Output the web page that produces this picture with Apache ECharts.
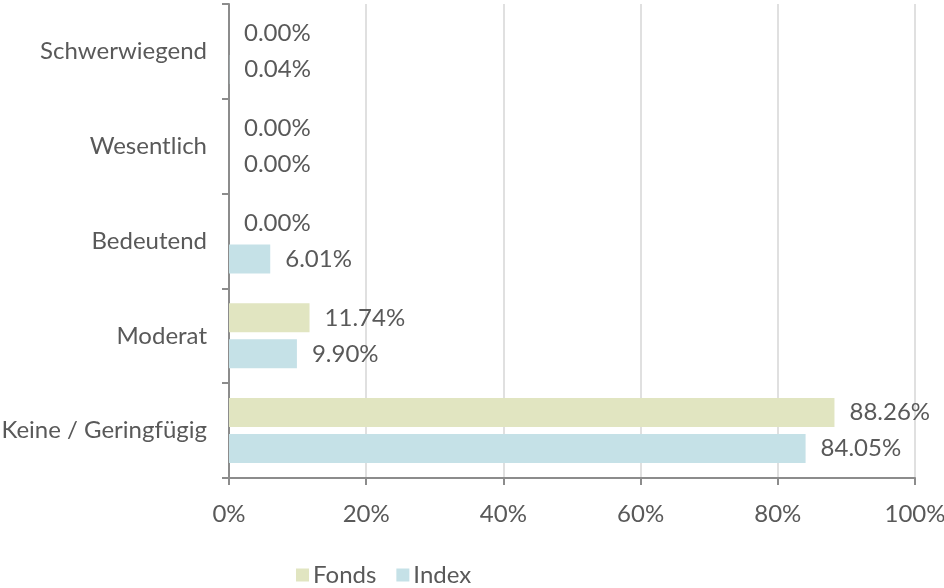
<!DOCTYPE html>
<html>
<head>
<meta charset="utf-8">
<script src="https://cdn.jsdelivr.net/npm/echarts@6/dist/echarts.min.js"></script>
<style>
  html, body { margin: 0; padding: 0; background: #fff; }
  #chart { width: 944px; height: 588px; }
</style>
</head>
<body>
<div id="chart"></div>
<script>
// categories top to bottom
const categories = ['Schwerwiegend', 'Wesentlich', 'Bedeutend', 'Moderat', 'Keine / Geringfügig']
const fondsValues = [0.00, 0.00, 0.00, 11.74, 88.26]
const indexValues = [0.04, 0.00, 6.01, 9.90, 84.05]
const xTicks = [0, 20, 40, 60, 80, 100]

const textColor = '#595959'
const font = 'Lato'
const fs = 24

const chart = echarts.init(document.getElementById('chart'))

const barLabel = {
  show: true,
  position: 'right',
  distance: 15,
  color: textColor,
  fontFamily: font,
  fontSize: fs,
  formatter: p => p.value.toFixed(2) + '%'
}

chart.setOption({
  animation: false,
  textStyle: { fontFamily: font },
  grid: { left: 229, right: 29, top: 4, bottom: 110, outerBoundsMode: 'none', containLabel: false },
  legend: {
    data: ['Fonds', 'Index'],
    left: 296,
    top: 563,
    padding: 0,
    icon: 'rect',
    itemWidth: 13,
    itemHeight: 13,
    itemGap: 20,
    textStyle: { color: textColor, fontSize: fs, fontFamily: font, padding: [0, 0, 0, -1] },
  },
  xAxis: {
    type: 'value',
    min: xTicks[0],
    max: xTicks[xTicks.length - 1],
    interval: 20,
    axisLine: { show: true, lineStyle: { color: '#8c8c8c', width: 2 } },
    axisTick: { show: true, length: 7, lineStyle: { color: '#8c8c8c', width: 2 } },
    splitLine: { show: true, lineStyle: { color: '#e0e0e0', width: 2 } },
    axisLabel: {
      color: textColor,
      fontSize: fs,
      fontFamily: font,
      margin: 24,
      formatter: v => v + '%'
    }
  },
  yAxis: {
    type: 'category',
    inverse: true,
    data: categories,
    axisLine: { show: true, lineStyle: { color: '#8c8c8c', width: 2 } },
    axisTick: { show: true, length: 7, lineStyle: { color: '#8c8c8c', width: 2 } },
    axisLabel: {
      color: textColor,
      fontSize: fs,
      fontFamily: font,
      margin: 22
    }
  },
  series: [
    {
      name: 'Fonds',
      type: 'bar',
      data: fondsValues,
      barWidth: 29,
      barGap: '24%',
      itemStyle: { color: '#e1e5c1' },
      label: barLabel
    },
    {
      name: 'Index',
      type: 'bar',
      data: indexValues,
      barWidth: 29,
      barGap: '24%',
      itemStyle: { color: '#c5e1e7' },
      label: barLabel
    }
  ]
})

window.addEventListener('resize', () => chart.resize())
</script>
</body>
</html>
